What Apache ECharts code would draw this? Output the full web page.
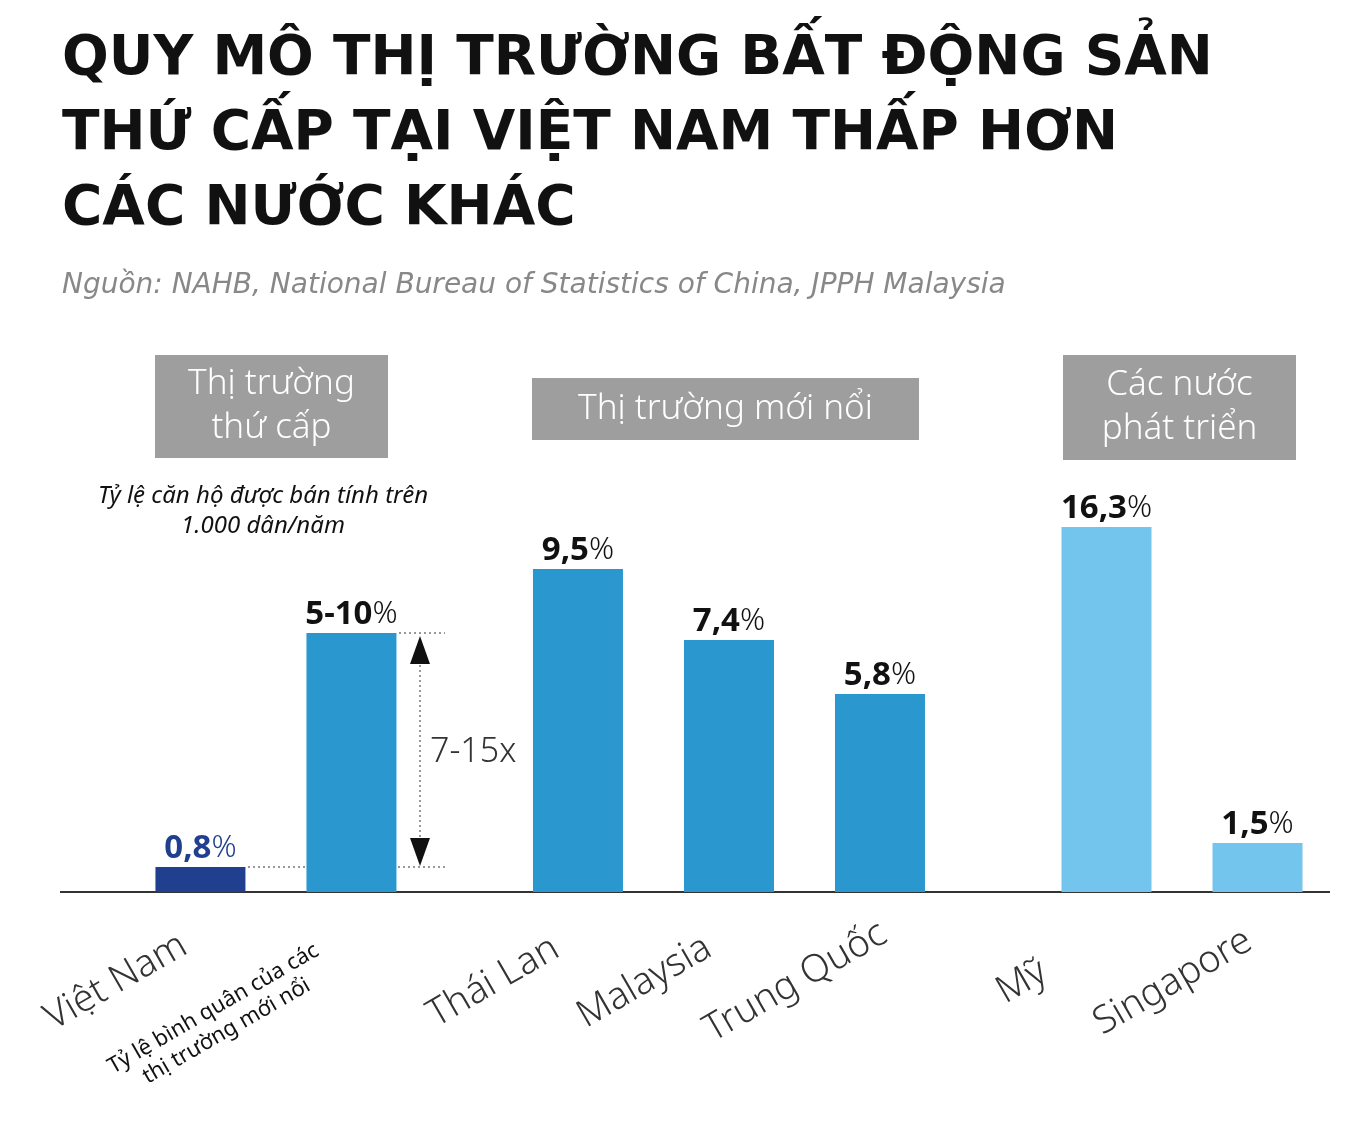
<!DOCTYPE html>
<html><head><meta charset="utf-8">
<script src="https://cdn.jsdelivr.net/npm/echarts@6/dist/echarts.min.js"></script>
<style>html,body{margin:0;background:#fff}#c{width:1349px;height:1123px}</style>
</head><body><div id="c"></div>
<script>
// bar order: Việt Nam, emerging avg, Thái Lan, Malaysia, Trung Quốc, Mỹ, Singapore
const categories = ['Việt Nam', 'Tỷ lệ bình quân của các\nthị trường mới nổi', 'Thái Lan', 'Malaysia', 'Trung Quốc', 'Mỹ', 'Singapore']
const valueLabels = ['0,8', '5-10', '9,5', '7,4', '5,8', '16,3', '1,5']
// bar heights as drawn in the picture (not to scale with the labels)
const barHeights = [25, 259, 323, 252, 198, 365, 49]
const slots = [0, 1, 2.5, 3.5, 4.5, 6, 7]
const colors = ['#213f8f', '#2a98cf', '#2a98cf', '#2a98cf', '#2a98cf', '#74c5ee', '#74c5ee']
const labelColors = ['#213f8f', '#111', '#111', '#111', '#111', '#111', '#111']

const chart = echarts.init(document.getElementById('c'))
const font = '"Noto Sans", sans-serif'
const wide = '"DejaVu Sans", sans-serif'

const axisText = categories.map((name, i) => {
    const cx = 201 + slots[i] * 151
    if (i === 1) {
        return { type: 'text', x: 220, y: 1020, rotation: Math.PI / 180 * 30,
            style: { text: name, font: '22px ' + font, fill: '#111', textAlign: 'center', textVerticalAlign: 'middle', lineHeight: 26 } }
    }
    return { type: 'text', x: cx - 85, y: 982, rotation: Math.PI / 180 * 30,
        style: { text: name, font: '300 38px ' + font, fill: '#333', textAlign: 'center', textVerticalAlign: 'middle' } }
})

const box = (x, y, w, h, text) => ({
    type: 'group', children: [
        { type: 'rect', shape: { x, y, width: w, height: h }, style: { fill: '#9e9e9e' } },
        { type: 'text', x: x + w / 2, y: y + h / 2, style: { text, font: '300 35px ' + font, fill: '#fff', textAlign: 'center', textVerticalAlign: 'middle', lineHeight: 44 } }
    ]
})

chart.setOption({
    animation: false,
    grid: { left: 60, right: 19, top: 492, bottom: 231 },
    xAxis: { type: 'value', min: -0.93, max: 7.48, splitLine: { show: false },
        axisLabel: { show: false }, axisTick: { show: false }, axisLine: { show: false } },
    yAxis: { type: 'value', min: 0, max: 400, show: false },
    series: [{
        type: 'bar', barWidth: 90,
        data: barHeights.map((h, i) => ({ value: [slots[i], h], itemStyle: { color: colors[i] },
            label: { rich: {
                b: { fontSize: 33, fontWeight: 'bold', fontFamily: font, color: labelColors[i] },
                p: { fontSize: 31, fontWeight: 300, fontFamily: font, color: labelColors[i] }
            } } })),
        label: {
            show: true, position: 'top', distance: 2,
            formatter: p => '{b|' + valueLabels[p.dataIndex] + '}{p|%}'
        }
    }],
    graphic: [
        { type: 'line', shape: { x1: 60, y1: 892, x2: 1330, y2: 892 }, style: { stroke: '#333', lineWidth: 2 } },
        { type: 'text', x: 62, y: 22, style: { text: 'QUY MÔ THỊ TRƯỜNG BẤT ĐỘNG SẢN\nTHỨ CẤP TẠI VIỆT NAM THẤP HƠN\nCÁC NƯỚC KHÁC', font: 'bold 55px ' + wide, fill: '#111', textVerticalAlign: 'top', lineHeight: 75 } },
        { type: 'text', x: 62, y: 286, style: { text: 'Nguồn: NAHB, National Bureau of Statistics of China, JPPH Malaysia', font: 'oblique 28px ' + wide, fill: '#888', textVerticalAlign: 'middle' } },
        box(155, 355, 233, 103, 'Thị trường\nthứ cấp'),
        box(532, 378, 387, 62, 'Thị trường mới nổi'),
        box(1063, 355, 233, 105, 'Các nước\nphát triển'),
        { type: 'text', x: 263, y: 511, style: { text: 'Tỷ lệ căn hộ được bán tính trên\n1.000 dân/năm', font: 'italic 24px ' + font, fill: '#111', textAlign: 'center', textVerticalAlign: 'middle', lineHeight: 30 } },
        { type: 'line', shape: { x1: 248, y1: 867, x2: 445, y2: 867 }, style: { stroke: '#333', lineDash: [2, 3] } },
        { type: 'line', shape: { x1: 399, y1: 633, x2: 445, y2: 633 }, style: { stroke: '#333', lineDash: [2, 3] } },
        { type: 'line', shape: { x1: 420, y1: 660, x2: 420, y2: 845 }, style: { stroke: '#333', lineDash: [2, 3] } },
        { type: 'polygon', shape: { points: [[420, 636], [410, 664], [430, 664]] }, style: { fill: '#111' } },
        { type: 'polygon', shape: { points: [[420, 866], [410, 838], [430, 838]] }, style: { fill: '#111' } },
        { type: 'text', x: 430, y: 752, style: { text: '7-15x', font: '300 34px ' + font, fill: '#333', textVerticalAlign: 'middle' } },
        ...axisText
    ]
})
</script></body></html>
